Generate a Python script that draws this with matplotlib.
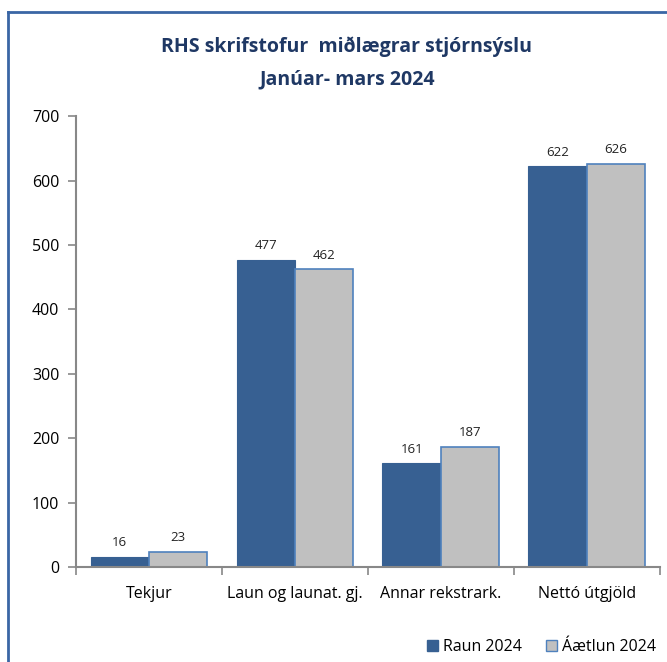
import matplotlib
matplotlib.use("Agg")
import matplotlib.pyplot as plt
import numpy as np
from matplotlib.patches import Rectangle
from matplotlib.lines import Line2D

plt.rcParams['font.family'] = ['Liberation Sans Narrow', 'Open Sans', 'DejaVu Sans']

categories = ["Tekjur", "Laun og launat. gj.", "Annar rekstrark.", "Nettó útgjöld"]
raun = [16, 477, 161, 622]
aaetlun = [23, 462, 187, 626]
series_names = ["Raun 2024", "Áætlun 2024"]
yticks = [0, 100, 200, 300, 400, 500, 600, 700]

fig = plt.figure(figsize=(6.67, 6.62), dpi=100)
ax = fig.add_axes([0.114, 0.1435, 0.875, 0.681])

x = np.arange(len(categories))
w = 0.4
c_raun = "#376092"
c_aaet = "#C0C0C0"
edge_aaet = "#4F81BD"
b1 = ax.bar(x - w/2, raun, w, color=c_raun, edgecolor=c_raun, linewidth=0.8)
b2 = ax.bar(x + w/2, aaetlun, w, color=c_aaet, edgecolor=edge_aaet, linewidth=1.2)

for rect, v in zip(b1, raun):
    ax.text(rect.get_x() + rect.get_width()/2, v + 12, str(v), ha='center', va='bottom', fontsize=9.5, color='#222222')
for rect, v in zip(b2, aaetlun):
    ax.text(rect.get_x() + rect.get_width()/2, v + 12, str(v), ha='center', va='bottom', fontsize=9.5, color='#222222')

ax.set_xlim(-0.5, len(categories) - 0.5)
ax.set_ylim(0, 700)
ax.set_yticks(yticks)
ax.set_yticklabels([str(t) for t in yticks], fontsize=11.5)
ax.set_xticks(x)
ax.set_xticklabels(categories, fontsize=11.5)
ax.set_xticks(np.arange(len(categories) + 1) - 0.5, minor=True)
ax.tick_params(axis='x', which='major', length=0, pad=14)
ax.tick_params(axis='x', which='minor', length=6, width=1.2, color='#888888', direction='out')
ax.tick_params(axis='y', length=6, width=1.2, color='#888888', direction='out', pad=6)
for s in ['top', 'right']:
    ax.spines[s].set_visible(False)
for s in ['left', 'bottom']:
    ax.spines[s].set_color('#888888')
    ax.spines[s].set_linewidth(1.5)

fig.text(0.52, 1 - 47/662, "RHS skrifstofur  miðlægrar stjórnsýslu", ha='center', va='center',
         fontsize=14, fontweight='bold', color='#1F3864')
fig.text(0.52, 1 - 79/662, "Janúar- mars 2024", ha='center', va='center',
         fontsize=14, fontweight='bold', color='#1F3864')

handles = [Rectangle((0, 0), 1, 1, facecolor=c_raun, edgecolor=c_raun),
           Rectangle((0, 0), 1, 1, facecolor=c_aaet, edgecolor=edge_aaet)]
fig.legend(handles, series_names, loc='center right', bbox_to_anchor=(1.005, 1 - 647/662),
           ncol=2, frameon=False, fontsize=11.5, handlelength=0.7, handleheight=0.7,
           handletextpad=0.3, columnspacing=1.5)

fig.add_artist(Line2D([8/667, 8/667], [0, 1 - 12/662], transform=fig.transFigure, color='#3A66A5', linewidth=2))
fig.add_artist(Line2D([8/667, 1], [1 - 12/662, 1 - 12/662], transform=fig.transFigure, color='#3A66A5', linewidth=2))

fig.savefig("out.png", dpi=100)
